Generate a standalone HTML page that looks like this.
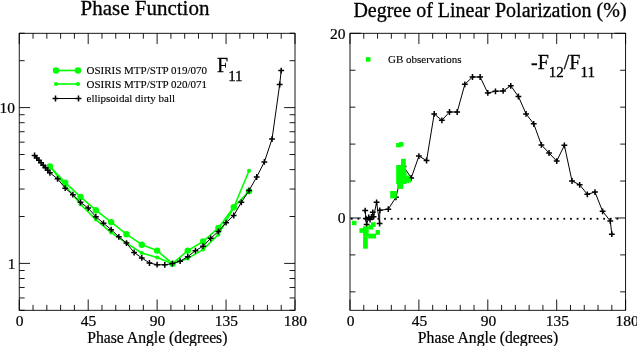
<!DOCTYPE html><html><head><meta charset="utf-8"><style>html,body{margin:0;padding:0;background:#fff;width:637px;height:346px;overflow:hidden}</style></head><body><svg width="637" height="346" viewBox="0 0 637 346" style="display:block;will-change:transform">
<rect x="0" y="0" width="637" height="346" fill="#fff"/>
<rect x="19.25" y="33.3" width="275.75" height="277.0" fill="none" stroke="#000" stroke-width="0.9"/>
<line x1="19.25" y1="310.3" x2="19.25" y2="299.5" stroke="#000" stroke-width="0.9"/>
<line x1="19.25" y1="33.3" x2="19.25" y2="44.099999999999994" stroke="#000" stroke-width="0.9"/>
<line x1="33.04" y1="310.3" x2="33.04" y2="304.90000000000003" stroke="#000" stroke-width="0.9"/>
<line x1="33.04" y1="33.3" x2="33.04" y2="38.699999999999996" stroke="#000" stroke-width="0.9"/>
<line x1="46.83" y1="310.3" x2="46.83" y2="304.90000000000003" stroke="#000" stroke-width="0.9"/>
<line x1="46.83" y1="33.3" x2="46.83" y2="38.699999999999996" stroke="#000" stroke-width="0.9"/>
<line x1="60.61" y1="310.3" x2="60.61" y2="304.90000000000003" stroke="#000" stroke-width="0.9"/>
<line x1="60.61" y1="33.3" x2="60.61" y2="38.699999999999996" stroke="#000" stroke-width="0.9"/>
<line x1="74.40" y1="310.3" x2="74.40" y2="304.90000000000003" stroke="#000" stroke-width="0.9"/>
<line x1="74.40" y1="33.3" x2="74.40" y2="38.699999999999996" stroke="#000" stroke-width="0.9"/>
<line x1="88.19" y1="310.3" x2="88.19" y2="299.5" stroke="#000" stroke-width="0.9"/>
<line x1="88.19" y1="33.3" x2="88.19" y2="44.099999999999994" stroke="#000" stroke-width="0.9"/>
<line x1="101.97" y1="310.3" x2="101.97" y2="304.90000000000003" stroke="#000" stroke-width="0.9"/>
<line x1="101.97" y1="33.3" x2="101.97" y2="38.699999999999996" stroke="#000" stroke-width="0.9"/>
<line x1="115.76" y1="310.3" x2="115.76" y2="304.90000000000003" stroke="#000" stroke-width="0.9"/>
<line x1="115.76" y1="33.3" x2="115.76" y2="38.699999999999996" stroke="#000" stroke-width="0.9"/>
<line x1="129.55" y1="310.3" x2="129.55" y2="304.90000000000003" stroke="#000" stroke-width="0.9"/>
<line x1="129.55" y1="33.3" x2="129.55" y2="38.699999999999996" stroke="#000" stroke-width="0.9"/>
<line x1="143.34" y1="310.3" x2="143.34" y2="304.90000000000003" stroke="#000" stroke-width="0.9"/>
<line x1="143.34" y1="33.3" x2="143.34" y2="38.699999999999996" stroke="#000" stroke-width="0.9"/>
<line x1="157.12" y1="310.3" x2="157.12" y2="299.5" stroke="#000" stroke-width="0.9"/>
<line x1="157.12" y1="33.3" x2="157.12" y2="44.099999999999994" stroke="#000" stroke-width="0.9"/>
<line x1="170.91" y1="310.3" x2="170.91" y2="304.90000000000003" stroke="#000" stroke-width="0.9"/>
<line x1="170.91" y1="33.3" x2="170.91" y2="38.699999999999996" stroke="#000" stroke-width="0.9"/>
<line x1="184.70" y1="310.3" x2="184.70" y2="304.90000000000003" stroke="#000" stroke-width="0.9"/>
<line x1="184.70" y1="33.3" x2="184.70" y2="38.699999999999996" stroke="#000" stroke-width="0.9"/>
<line x1="198.49" y1="310.3" x2="198.49" y2="304.90000000000003" stroke="#000" stroke-width="0.9"/>
<line x1="198.49" y1="33.3" x2="198.49" y2="38.699999999999996" stroke="#000" stroke-width="0.9"/>
<line x1="212.28" y1="310.3" x2="212.28" y2="304.90000000000003" stroke="#000" stroke-width="0.9"/>
<line x1="212.28" y1="33.3" x2="212.28" y2="38.699999999999996" stroke="#000" stroke-width="0.9"/>
<line x1="226.06" y1="310.3" x2="226.06" y2="299.5" stroke="#000" stroke-width="0.9"/>
<line x1="226.06" y1="33.3" x2="226.06" y2="44.099999999999994" stroke="#000" stroke-width="0.9"/>
<line x1="239.85" y1="310.3" x2="239.85" y2="304.90000000000003" stroke="#000" stroke-width="0.9"/>
<line x1="239.85" y1="33.3" x2="239.85" y2="38.699999999999996" stroke="#000" stroke-width="0.9"/>
<line x1="253.64" y1="310.3" x2="253.64" y2="304.90000000000003" stroke="#000" stroke-width="0.9"/>
<line x1="253.64" y1="33.3" x2="253.64" y2="38.699999999999996" stroke="#000" stroke-width="0.9"/>
<line x1="267.43" y1="310.3" x2="267.43" y2="304.90000000000003" stroke="#000" stroke-width="0.9"/>
<line x1="267.43" y1="33.3" x2="267.43" y2="38.699999999999996" stroke="#000" stroke-width="0.9"/>
<line x1="281.21" y1="310.3" x2="281.21" y2="304.90000000000003" stroke="#000" stroke-width="0.9"/>
<line x1="281.21" y1="33.3" x2="281.21" y2="38.699999999999996" stroke="#000" stroke-width="0.9"/>
<line x1="295.00" y1="310.3" x2="295.00" y2="299.5" stroke="#000" stroke-width="0.9"/>
<line x1="295.00" y1="33.3" x2="295.00" y2="44.099999999999994" stroke="#000" stroke-width="0.9"/>
<rect x="350.0" y="33.3" width="275.6" height="277.0" fill="none" stroke="#000" stroke-width="0.9"/>
<line x1="350.00" y1="310.3" x2="350.00" y2="299.5" stroke="#000" stroke-width="0.9"/>
<line x1="350.00" y1="33.3" x2="350.00" y2="44.099999999999994" stroke="#000" stroke-width="0.9"/>
<line x1="363.78" y1="310.3" x2="363.78" y2="304.90000000000003" stroke="#000" stroke-width="0.9"/>
<line x1="363.78" y1="33.3" x2="363.78" y2="38.699999999999996" stroke="#000" stroke-width="0.9"/>
<line x1="377.56" y1="310.3" x2="377.56" y2="304.90000000000003" stroke="#000" stroke-width="0.9"/>
<line x1="377.56" y1="33.3" x2="377.56" y2="38.699999999999996" stroke="#000" stroke-width="0.9"/>
<line x1="391.34" y1="310.3" x2="391.34" y2="304.90000000000003" stroke="#000" stroke-width="0.9"/>
<line x1="391.34" y1="33.3" x2="391.34" y2="38.699999999999996" stroke="#000" stroke-width="0.9"/>
<line x1="405.12" y1="310.3" x2="405.12" y2="304.90000000000003" stroke="#000" stroke-width="0.9"/>
<line x1="405.12" y1="33.3" x2="405.12" y2="38.699999999999996" stroke="#000" stroke-width="0.9"/>
<line x1="418.90" y1="310.3" x2="418.90" y2="299.5" stroke="#000" stroke-width="0.9"/>
<line x1="418.90" y1="33.3" x2="418.90" y2="44.099999999999994" stroke="#000" stroke-width="0.9"/>
<line x1="432.68" y1="310.3" x2="432.68" y2="304.90000000000003" stroke="#000" stroke-width="0.9"/>
<line x1="432.68" y1="33.3" x2="432.68" y2="38.699999999999996" stroke="#000" stroke-width="0.9"/>
<line x1="446.46" y1="310.3" x2="446.46" y2="304.90000000000003" stroke="#000" stroke-width="0.9"/>
<line x1="446.46" y1="33.3" x2="446.46" y2="38.699999999999996" stroke="#000" stroke-width="0.9"/>
<line x1="460.24" y1="310.3" x2="460.24" y2="304.90000000000003" stroke="#000" stroke-width="0.9"/>
<line x1="460.24" y1="33.3" x2="460.24" y2="38.699999999999996" stroke="#000" stroke-width="0.9"/>
<line x1="474.02" y1="310.3" x2="474.02" y2="304.90000000000003" stroke="#000" stroke-width="0.9"/>
<line x1="474.02" y1="33.3" x2="474.02" y2="38.699999999999996" stroke="#000" stroke-width="0.9"/>
<line x1="487.80" y1="310.3" x2="487.80" y2="299.5" stroke="#000" stroke-width="0.9"/>
<line x1="487.80" y1="33.3" x2="487.80" y2="44.099999999999994" stroke="#000" stroke-width="0.9"/>
<line x1="501.58" y1="310.3" x2="501.58" y2="304.90000000000003" stroke="#000" stroke-width="0.9"/>
<line x1="501.58" y1="33.3" x2="501.58" y2="38.699999999999996" stroke="#000" stroke-width="0.9"/>
<line x1="515.36" y1="310.3" x2="515.36" y2="304.90000000000003" stroke="#000" stroke-width="0.9"/>
<line x1="515.36" y1="33.3" x2="515.36" y2="38.699999999999996" stroke="#000" stroke-width="0.9"/>
<line x1="529.14" y1="310.3" x2="529.14" y2="304.90000000000003" stroke="#000" stroke-width="0.9"/>
<line x1="529.14" y1="33.3" x2="529.14" y2="38.699999999999996" stroke="#000" stroke-width="0.9"/>
<line x1="542.92" y1="310.3" x2="542.92" y2="304.90000000000003" stroke="#000" stroke-width="0.9"/>
<line x1="542.92" y1="33.3" x2="542.92" y2="38.699999999999996" stroke="#000" stroke-width="0.9"/>
<line x1="556.70" y1="310.3" x2="556.70" y2="299.5" stroke="#000" stroke-width="0.9"/>
<line x1="556.70" y1="33.3" x2="556.70" y2="44.099999999999994" stroke="#000" stroke-width="0.9"/>
<line x1="570.48" y1="310.3" x2="570.48" y2="304.90000000000003" stroke="#000" stroke-width="0.9"/>
<line x1="570.48" y1="33.3" x2="570.48" y2="38.699999999999996" stroke="#000" stroke-width="0.9"/>
<line x1="584.26" y1="310.3" x2="584.26" y2="304.90000000000003" stroke="#000" stroke-width="0.9"/>
<line x1="584.26" y1="33.3" x2="584.26" y2="38.699999999999996" stroke="#000" stroke-width="0.9"/>
<line x1="598.04" y1="310.3" x2="598.04" y2="304.90000000000003" stroke="#000" stroke-width="0.9"/>
<line x1="598.04" y1="33.3" x2="598.04" y2="38.699999999999996" stroke="#000" stroke-width="0.9"/>
<line x1="611.82" y1="310.3" x2="611.82" y2="304.90000000000003" stroke="#000" stroke-width="0.9"/>
<line x1="611.82" y1="33.3" x2="611.82" y2="38.699999999999996" stroke="#000" stroke-width="0.9"/>
<line x1="625.60" y1="310.3" x2="625.60" y2="299.5" stroke="#000" stroke-width="0.9"/>
<line x1="625.60" y1="33.3" x2="625.60" y2="44.099999999999994" stroke="#000" stroke-width="0.9"/>
<line x1="19.25" y1="310.30" x2="24.65" y2="310.30" stroke="#000" stroke-width="0.9"/>
<line x1="295.0" y1="310.30" x2="289.6" y2="310.30" stroke="#000" stroke-width="0.9"/>
<line x1="19.25" y1="297.96" x2="24.65" y2="297.96" stroke="#000" stroke-width="0.9"/>
<line x1="295.0" y1="297.96" x2="289.6" y2="297.96" stroke="#000" stroke-width="0.9"/>
<line x1="19.25" y1="287.53" x2="24.65" y2="287.53" stroke="#000" stroke-width="0.9"/>
<line x1="295.0" y1="287.53" x2="289.6" y2="287.53" stroke="#000" stroke-width="0.9"/>
<line x1="19.25" y1="278.50" x2="24.65" y2="278.50" stroke="#000" stroke-width="0.9"/>
<line x1="295.0" y1="278.50" x2="289.6" y2="278.50" stroke="#000" stroke-width="0.9"/>
<line x1="19.25" y1="270.53" x2="24.65" y2="270.53" stroke="#000" stroke-width="0.9"/>
<line x1="295.0" y1="270.53" x2="289.6" y2="270.53" stroke="#000" stroke-width="0.9"/>
<line x1="19.25" y1="263.40" x2="30.05" y2="263.40" stroke="#000" stroke-width="0.9"/>
<line x1="295.0" y1="263.40" x2="284.2" y2="263.40" stroke="#000" stroke-width="0.9"/>
<line x1="19.25" y1="216.50" x2="24.65" y2="216.50" stroke="#000" stroke-width="0.9"/>
<line x1="295.0" y1="216.50" x2="289.6" y2="216.50" stroke="#000" stroke-width="0.9"/>
<line x1="19.25" y1="189.06" x2="24.65" y2="189.06" stroke="#000" stroke-width="0.9"/>
<line x1="295.0" y1="189.06" x2="289.6" y2="189.06" stroke="#000" stroke-width="0.9"/>
<line x1="19.25" y1="169.60" x2="24.65" y2="169.60" stroke="#000" stroke-width="0.9"/>
<line x1="295.0" y1="169.60" x2="289.6" y2="169.60" stroke="#000" stroke-width="0.9"/>
<line x1="19.25" y1="154.50" x2="24.65" y2="154.50" stroke="#000" stroke-width="0.9"/>
<line x1="295.0" y1="154.50" x2="289.6" y2="154.50" stroke="#000" stroke-width="0.9"/>
<line x1="19.25" y1="142.16" x2="24.65" y2="142.16" stroke="#000" stroke-width="0.9"/>
<line x1="295.0" y1="142.16" x2="289.6" y2="142.16" stroke="#000" stroke-width="0.9"/>
<line x1="19.25" y1="131.73" x2="24.65" y2="131.73" stroke="#000" stroke-width="0.9"/>
<line x1="295.0" y1="131.73" x2="289.6" y2="131.73" stroke="#000" stroke-width="0.9"/>
<line x1="19.25" y1="122.70" x2="24.65" y2="122.70" stroke="#000" stroke-width="0.9"/>
<line x1="295.0" y1="122.70" x2="289.6" y2="122.70" stroke="#000" stroke-width="0.9"/>
<line x1="19.25" y1="114.73" x2="24.65" y2="114.73" stroke="#000" stroke-width="0.9"/>
<line x1="295.0" y1="114.73" x2="289.6" y2="114.73" stroke="#000" stroke-width="0.9"/>
<line x1="19.25" y1="107.60" x2="30.05" y2="107.60" stroke="#000" stroke-width="0.9"/>
<line x1="295.0" y1="107.60" x2="284.2" y2="107.60" stroke="#000" stroke-width="0.9"/>
<line x1="19.25" y1="60.70" x2="24.65" y2="60.70" stroke="#000" stroke-width="0.9"/>
<line x1="295.0" y1="60.70" x2="289.6" y2="60.70" stroke="#000" stroke-width="0.9"/>
<line x1="19.25" y1="33.26" x2="24.65" y2="33.26" stroke="#000" stroke-width="0.9"/>
<line x1="295.0" y1="33.26" x2="289.6" y2="33.26" stroke="#000" stroke-width="0.9"/>
<line x1="350.0" y1="291.84" x2="355.4" y2="291.84" stroke="#000" stroke-width="0.9"/>
<line x1="625.6" y1="291.84" x2="620.2" y2="291.84" stroke="#000" stroke-width="0.9"/>
<line x1="350.0" y1="254.90" x2="355.4" y2="254.90" stroke="#000" stroke-width="0.9"/>
<line x1="625.6" y1="254.90" x2="620.2" y2="254.90" stroke="#000" stroke-width="0.9"/>
<line x1="350.0" y1="217.97" x2="360.8" y2="217.97" stroke="#000" stroke-width="0.9"/>
<line x1="625.6" y1="217.97" x2="614.8000000000001" y2="217.97" stroke="#000" stroke-width="0.9"/>
<line x1="350.0" y1="181.04" x2="355.4" y2="181.04" stroke="#000" stroke-width="0.9"/>
<line x1="625.6" y1="181.04" x2="620.2" y2="181.04" stroke="#000" stroke-width="0.9"/>
<line x1="350.0" y1="144.10" x2="355.4" y2="144.10" stroke="#000" stroke-width="0.9"/>
<line x1="625.6" y1="144.10" x2="620.2" y2="144.10" stroke="#000" stroke-width="0.9"/>
<line x1="350.0" y1="107.17" x2="355.4" y2="107.17" stroke="#000" stroke-width="0.9"/>
<line x1="625.6" y1="107.17" x2="620.2" y2="107.17" stroke="#000" stroke-width="0.9"/>
<line x1="350.0" y1="70.24" x2="355.4" y2="70.24" stroke="#000" stroke-width="0.9"/>
<line x1="625.6" y1="70.24" x2="620.2" y2="70.24" stroke="#000" stroke-width="0.9"/>
<line x1="350.0" y1="33.30" x2="360.8" y2="33.30" stroke="#000" stroke-width="0.9"/>
<line x1="625.6" y1="33.30" x2="614.8000000000001" y2="33.30" stroke="#000" stroke-width="0.9"/>
<text x="19.65" y="326.3" font-family='"Liberation Serif", serif' font-size="15.5" text-anchor="middle" fill="#000" stroke="#000" stroke-width="0.22" >0</text>
<text x="350.60" y="326.3" font-family='"Liberation Serif", serif' font-size="15.5" text-anchor="middle" fill="#000" stroke="#000" stroke-width="0.22" >0</text>
<text x="88.59" y="326.3" font-family='"Liberation Serif", serif' font-size="15.5" text-anchor="middle" fill="#000" stroke="#000" stroke-width="0.22" >45</text>
<text x="419.50" y="326.3" font-family='"Liberation Serif", serif' font-size="15.5" text-anchor="middle" fill="#000" stroke="#000" stroke-width="0.22" >45</text>
<text x="157.53" y="326.3" font-family='"Liberation Serif", serif' font-size="15.5" text-anchor="middle" fill="#000" stroke="#000" stroke-width="0.22" >90</text>
<text x="488.40" y="326.3" font-family='"Liberation Serif", serif' font-size="15.5" text-anchor="middle" fill="#000" stroke="#000" stroke-width="0.22" >90</text>
<text x="226.46" y="326.3" font-family='"Liberation Serif", serif' font-size="15.5" text-anchor="middle" fill="#000" stroke="#000" stroke-width="0.22" >135</text>
<text x="557.30" y="326.3" font-family='"Liberation Serif", serif' font-size="15.5" text-anchor="middle" fill="#000" stroke="#000" stroke-width="0.22" >135</text>
<text x="295.40" y="326.3" font-family='"Liberation Serif", serif' font-size="15.5" text-anchor="middle" fill="#000" stroke="#000" stroke-width="0.22" >180</text>
<text x="627.20" y="326.3" font-family='"Liberation Serif", serif' font-size="15.5" text-anchor="middle" fill="#000" stroke="#000" stroke-width="0.22" >180</text>
<text x="15" y="112.8" font-family='"Liberation Serif", serif' font-size="15.5" text-anchor="end" fill="#000" stroke="#000" stroke-width="0.22" >10</text>
<text x="15.5" y="268.5" font-family='"Liberation Serif", serif' font-size="15.5" text-anchor="end" fill="#000" stroke="#000" stroke-width="0.22" >1</text>
<text x="345.5" y="38.7" font-family='"Liberation Serif", serif' font-size="15.5" text-anchor="end" fill="#000" stroke="#000" stroke-width="0.22" >20</text>
<text x="345.5" y="223.2" font-family='"Liberation Serif", serif' font-size="15.5" text-anchor="end" fill="#000" stroke="#000" stroke-width="0.22" >0</text>
<text x="145" y="14.6" font-family='"Liberation Serif", serif' font-size="21" text-anchor="middle" fill="#000" stroke="#000" stroke-width="0.3" >Phase Function</text>
<text x="490" y="17.3" font-family='"Liberation Serif", serif' font-size="20" text-anchor="middle" fill="#000" stroke="#000" stroke-width="0.3" >Degree of Linear Polarization (%)</text>
<text x="157.3" y="342.7" font-family='"Liberation Serif", serif' font-size="15.7" text-anchor="middle" fill="#000" stroke="#000" stroke-width="0.22" >Phase Angle (degrees)</text>
<text x="488" y="342.7" font-family='"Liberation Serif", serif' font-size="15.7" text-anchor="middle" fill="#000" stroke="#000" stroke-width="0.22" >Phase Angle (degrees)</text>
<text x="217" y="72.2" font-family='"Liberation Serif", serif' font-size="20" fill="#000" stroke="#000" stroke-width="0.3">F<tspan font-size="15" dy="8.4">11</tspan></text>
<text x="531" y="68.7" font-family='"Liberation Serif", serif' font-size="20" fill="#000" stroke="#000" stroke-width="0.3">-F<tspan font-size="15" dy="8.3">12</tspan><tspan dy="-8.3">/F</tspan><tspan font-size="15" dy="8.3">11</tspan></text>
<line x1="56" y1="70.5" x2="78" y2="70.5" stroke="#00ff00" stroke-width="1.6"/>
<circle cx="56" cy="70.5" r="3.2" fill="#00ff00"/><circle cx="78" cy="70.5" r="3.2" fill="#00ff00"/>
<line x1="56" y1="84" x2="78" y2="84" stroke="#00ff00" stroke-width="1.6"/>
<circle cx="56" cy="84" r="2" fill="#00ff00"/><circle cx="78" cy="84" r="2" fill="#00ff00"/>
<line x1="56" y1="98.5" x2="78" y2="98.5" stroke="#000" stroke-width="1"/>
<path d="M52.60 98.50H58.40M55.50 95.60V101.40" stroke="#000" stroke-width="1.5"/>
<path d="M75.60 98.50H81.40M78.50 95.60V101.40" stroke="#000" stroke-width="1.5"/>
<text x="86.5" y="74.2" font-family='"Liberation Serif", serif' font-size="11" text-anchor="start" fill="#000" stroke="#000" stroke-width="0.12" >OSIRIS MTP/STP 019/070</text>
<text x="86.5" y="87.8" font-family='"Liberation Serif", serif' font-size="11" text-anchor="start" fill="#000" stroke="#000" stroke-width="0.12" >OSIRIS MTP/STP 020/071</text>
<text x="86.5" y="101.8" font-family='"Liberation Serif", serif' font-size="11" text-anchor="start" fill="#000" stroke="#000" stroke-width="0.12" >ellipsoidal dirty ball</text>
<polyline points="49.89,166.50 65.21,185.50 80.53,204.30 95.85,219.60 111.17,232.60 126.49,243.10 141.81,253.00 157.12,257.40 172.44,263.80 187.76,258.40 203.08,249.60 218.40,234.50 233.72,207.50 249.04,170.70" fill="none" stroke="#00ff00" stroke-width="1.6" stroke-linejoin="round"/>
<circle cx="49.89" cy="166.50" r="2" fill="#00ff00"/>
<circle cx="65.21" cy="185.50" r="2" fill="#00ff00"/>
<circle cx="80.53" cy="204.30" r="2" fill="#00ff00"/>
<circle cx="95.85" cy="219.60" r="2" fill="#00ff00"/>
<circle cx="111.17" cy="232.60" r="2" fill="#00ff00"/>
<circle cx="126.49" cy="243.10" r="2" fill="#00ff00"/>
<circle cx="141.81" cy="253.00" r="2" fill="#00ff00"/>
<circle cx="157.12" cy="257.40" r="2" fill="#00ff00"/>
<circle cx="172.44" cy="263.80" r="2" fill="#00ff00"/>
<circle cx="187.76" cy="258.40" r="2" fill="#00ff00"/>
<circle cx="203.08" cy="249.60" r="2" fill="#00ff00"/>
<circle cx="218.40" cy="234.50" r="2" fill="#00ff00"/>
<circle cx="233.72" cy="207.50" r="2" fill="#00ff00"/>
<circle cx="249.04" cy="170.70" r="2" fill="#00ff00"/>
<polyline points="49.89,166.50 65.21,182.60 80.53,196.90 95.85,210.20 111.17,222.10 126.49,234.20 141.81,244.70 157.12,250.60 172.44,263.70 187.76,250.60 203.08,241.50 218.40,227.90 233.72,207.30 249.04,191.10" fill="none" stroke="#00ff00" stroke-width="1.6" stroke-linejoin="round"/>
<circle cx="49.89" cy="166.50" r="3.2" fill="#00ff00"/>
<circle cx="65.21" cy="182.60" r="3.2" fill="#00ff00"/>
<circle cx="80.53" cy="196.90" r="3.2" fill="#00ff00"/>
<circle cx="95.85" cy="210.20" r="3.2" fill="#00ff00"/>
<circle cx="111.17" cy="222.10" r="3.2" fill="#00ff00"/>
<circle cx="126.49" cy="234.20" r="3.2" fill="#00ff00"/>
<circle cx="141.81" cy="244.70" r="3.2" fill="#00ff00"/>
<circle cx="157.12" cy="250.60" r="3.2" fill="#00ff00"/>
<circle cx="172.44" cy="263.70" r="3.2" fill="#00ff00"/>
<circle cx="187.76" cy="250.60" r="3.2" fill="#00ff00"/>
<circle cx="203.08" cy="241.50" r="3.2" fill="#00ff00"/>
<circle cx="218.40" cy="227.90" r="3.2" fill="#00ff00"/>
<circle cx="233.72" cy="207.30" r="3.2" fill="#00ff00"/>
<circle cx="249.04" cy="191.10" r="3.2" fill="#00ff00"/>
<polyline points="34.57,155.40 36.76,157.89 38.95,160.37 41.13,162.86 43.32,165.34 45.51,167.83 47.70,170.31 49.89,172.80 57.55,178.80 65.21,188.20 72.87,194.70 80.53,202.30 88.19,208.10 95.85,216.70 103.51,223.20 111.17,229.70 118.83,236.80 126.49,243.10 134.15,252.50 141.81,257.90 149.47,263.00 157.12,264.70 164.78,264.80 172.44,263.60 180.10,261.20 187.76,256.70 195.42,250.70 203.08,246.20 210.74,238.30 218.40,231.40 226.06,222.70 233.72,215.50 241.38,202.30 249.04,190.50 256.70,177.00 264.36,161.90 272.02,139.10 279.68,84.50 281.21,70.60" fill="none" stroke="#000" stroke-width="1" stroke-linejoin="round"/>
<path d="M31.67 155.40H37.47M34.57 152.50V158.30" stroke="#000" stroke-width="1.5"/>
<path d="M33.86 157.89H39.66M36.76 154.99V160.79" stroke="#000" stroke-width="1.5"/>
<path d="M36.05 160.37H41.85M38.95 157.47V163.27" stroke="#000" stroke-width="1.5"/>
<path d="M38.23 162.86H44.03M41.13 159.96V165.76" stroke="#000" stroke-width="1.5"/>
<path d="M40.42 165.34H46.22M43.32 162.44V168.24" stroke="#000" stroke-width="1.5"/>
<path d="M42.61 167.83H48.41M45.51 164.93V170.73" stroke="#000" stroke-width="1.5"/>
<path d="M44.80 170.31H50.60M47.70 167.41V173.21" stroke="#000" stroke-width="1.5"/>
<path d="M46.99 172.80H52.79M49.89 169.90V175.70" stroke="#000" stroke-width="1.5"/>
<path d="M54.65 178.80H60.45M57.55 175.90V181.70" stroke="#000" stroke-width="1.5"/>
<path d="M62.31 188.20H68.11M65.21 185.30V191.10" stroke="#000" stroke-width="1.5"/>
<path d="M69.97 194.70H75.77M72.87 191.80V197.60" stroke="#000" stroke-width="1.5"/>
<path d="M77.63 202.30H83.43M80.53 199.40V205.20" stroke="#000" stroke-width="1.5"/>
<path d="M85.29 208.10H91.09M88.19 205.20V211.00" stroke="#000" stroke-width="1.5"/>
<path d="M92.95 216.70H98.75M95.85 213.80V219.60" stroke="#000" stroke-width="1.5"/>
<path d="M100.61 223.20H106.41M103.51 220.30V226.10" stroke="#000" stroke-width="1.5"/>
<path d="M108.27 229.70H114.07M111.17 226.80V232.60" stroke="#000" stroke-width="1.5"/>
<path d="M115.93 236.80H121.73M118.83 233.90V239.70" stroke="#000" stroke-width="1.5"/>
<path d="M123.59 243.10H129.39M126.49 240.20V246.00" stroke="#000" stroke-width="1.5"/>
<path d="M131.25 252.50H137.05M134.15 249.60V255.40" stroke="#000" stroke-width="1.5"/>
<path d="M138.91 257.90H144.71M141.81 255.00V260.80" stroke="#000" stroke-width="1.5"/>
<path d="M146.57 263.00H152.37M149.47 260.10V265.90" stroke="#000" stroke-width="1.5"/>
<path d="M154.22 264.70H160.03M157.12 261.80V267.60" stroke="#000" stroke-width="1.5"/>
<path d="M161.88 264.80H167.68M164.78 261.90V267.70" stroke="#000" stroke-width="1.5"/>
<path d="M169.54 263.60H175.34M172.44 260.70V266.50" stroke="#000" stroke-width="1.5"/>
<path d="M177.20 261.20H183.00M180.10 258.30V264.10" stroke="#000" stroke-width="1.5"/>
<path d="M184.86 256.70H190.66M187.76 253.80V259.60" stroke="#000" stroke-width="1.5"/>
<path d="M192.52 250.70H198.32M195.42 247.80V253.60" stroke="#000" stroke-width="1.5"/>
<path d="M200.18 246.20H205.98M203.08 243.30V249.10" stroke="#000" stroke-width="1.5"/>
<path d="M207.84 238.30H213.64M210.74 235.40V241.20" stroke="#000" stroke-width="1.5"/>
<path d="M215.50 231.40H221.30M218.40 228.50V234.30" stroke="#000" stroke-width="1.5"/>
<path d="M223.16 222.70H228.96M226.06 219.80V225.60" stroke="#000" stroke-width="1.5"/>
<path d="M230.82 215.50H236.62M233.72 212.60V218.40" stroke="#000" stroke-width="1.5"/>
<path d="M238.48 202.30H244.28M241.38 199.40V205.20" stroke="#000" stroke-width="1.5"/>
<path d="M246.14 190.50H251.94M249.04 187.60V193.40" stroke="#000" stroke-width="1.5"/>
<path d="M253.80 177.00H259.60M256.70 174.10V179.90" stroke="#000" stroke-width="1.5"/>
<path d="M261.46 161.90H267.26M264.36 159.00V164.80" stroke="#000" stroke-width="1.5"/>
<path d="M269.12 139.10H274.92M272.02 136.20V142.00" stroke="#000" stroke-width="1.5"/>
<path d="M276.78 84.50H282.58M279.68 81.60V87.40" stroke="#000" stroke-width="1.5"/>
<path d="M278.31 70.60H284.11M281.21 67.70V73.50" stroke="#000" stroke-width="1.5"/>
<rect x="350.90" y="217.87" width="1.8" height="1.8" fill="#000"/>
<rect x="357.54" y="217.87" width="1.8" height="1.8" fill="#000"/>
<rect x="364.18" y="217.87" width="1.8" height="1.8" fill="#000"/>
<rect x="370.82" y="217.87" width="1.8" height="1.8" fill="#000"/>
<rect x="377.46" y="217.87" width="1.8" height="1.8" fill="#000"/>
<rect x="384.10" y="217.87" width="1.8" height="1.8" fill="#000"/>
<rect x="390.74" y="217.87" width="1.8" height="1.8" fill="#000"/>
<rect x="397.38" y="217.87" width="1.8" height="1.8" fill="#000"/>
<rect x="404.02" y="217.87" width="1.8" height="1.8" fill="#000"/>
<rect x="410.66" y="217.87" width="1.8" height="1.8" fill="#000"/>
<rect x="417.30" y="217.87" width="1.8" height="1.8" fill="#000"/>
<rect x="423.94" y="217.87" width="1.8" height="1.8" fill="#000"/>
<rect x="430.58" y="217.87" width="1.8" height="1.8" fill="#000"/>
<rect x="437.22" y="217.87" width="1.8" height="1.8" fill="#000"/>
<rect x="443.86" y="217.87" width="1.8" height="1.8" fill="#000"/>
<rect x="450.50" y="217.87" width="1.8" height="1.8" fill="#000"/>
<rect x="457.14" y="217.87" width="1.8" height="1.8" fill="#000"/>
<rect x="463.78" y="217.87" width="1.8" height="1.8" fill="#000"/>
<rect x="470.42" y="217.87" width="1.8" height="1.8" fill="#000"/>
<rect x="477.06" y="217.87" width="1.8" height="1.8" fill="#000"/>
<rect x="483.70" y="217.87" width="1.8" height="1.8" fill="#000"/>
<rect x="490.34" y="217.87" width="1.8" height="1.8" fill="#000"/>
<rect x="496.98" y="217.87" width="1.8" height="1.8" fill="#000"/>
<rect x="503.62" y="217.87" width="1.8" height="1.8" fill="#000"/>
<rect x="510.26" y="217.87" width="1.8" height="1.8" fill="#000"/>
<rect x="516.90" y="217.87" width="1.8" height="1.8" fill="#000"/>
<rect x="523.54" y="217.87" width="1.8" height="1.8" fill="#000"/>
<rect x="530.18" y="217.87" width="1.8" height="1.8" fill="#000"/>
<rect x="536.82" y="217.87" width="1.8" height="1.8" fill="#000"/>
<rect x="543.46" y="217.87" width="1.8" height="1.8" fill="#000"/>
<rect x="550.10" y="217.87" width="1.8" height="1.8" fill="#000"/>
<rect x="556.74" y="217.87" width="1.8" height="1.8" fill="#000"/>
<rect x="563.38" y="217.87" width="1.8" height="1.8" fill="#000"/>
<rect x="570.02" y="217.87" width="1.8" height="1.8" fill="#000"/>
<rect x="576.66" y="217.87" width="1.8" height="1.8" fill="#000"/>
<rect x="583.30" y="217.87" width="1.8" height="1.8" fill="#000"/>
<rect x="589.94" y="217.87" width="1.8" height="1.8" fill="#000"/>
<rect x="596.58" y="217.87" width="1.8" height="1.8" fill="#000"/>
<rect x="603.22" y="217.87" width="1.8" height="1.8" fill="#000"/>
<rect x="609.86" y="217.87" width="1.8" height="1.8" fill="#000"/>
<rect x="616.50" y="217.87" width="1.8" height="1.8" fill="#000"/>
<polyline points="365.20,210.60 365.90,218.60 366.60,224.50 368.70,217.50 370.00,219.50 371.50,217.00 372.80,212.30 373.60,216.80 376.60,202.30 379.60,223.50 379.80,210.30 388.28,209.20 395.93,197.30 403.59,166.50 411.24,177.90 418.90,156.10 426.56,160.50 434.21,113.90 441.87,120.30 449.52,112.00 457.18,112.00 464.83,84.30 472.49,77.00 480.14,77.00 487.80,92.90 495.46,91.30 503.11,90.90 510.77,85.80 518.42,96.50 526.08,113.90 533.73,123.80 541.39,144.90 549.04,153.00 556.70,161.10 564.36,145.30 572.01,181.00 579.67,184.80 587.32,194.30 594.98,192.10 602.63,211.30 610.29,221.00 611.82,234.20" fill="none" stroke="#000" stroke-width="1" stroke-linejoin="round"/>
<path d="M362.30 210.60H368.10M365.20 207.70V213.50" stroke="#000" stroke-width="1.5"/>
<path d="M363.00 218.60H368.80M365.90 215.70V221.50" stroke="#000" stroke-width="1.5"/>
<path d="M363.70 224.50H369.50M366.60 221.60V227.40" stroke="#000" stroke-width="1.5"/>
<path d="M365.80 217.50H371.60M368.70 214.60V220.40" stroke="#000" stroke-width="1.5"/>
<path d="M367.10 219.50H372.90M370.00 216.60V222.40" stroke="#000" stroke-width="1.5"/>
<path d="M368.60 217.00H374.40M371.50 214.10V219.90" stroke="#000" stroke-width="1.5"/>
<path d="M369.90 212.30H375.70M372.80 209.40V215.20" stroke="#000" stroke-width="1.5"/>
<path d="M370.70 216.80H376.50M373.60 213.90V219.70" stroke="#000" stroke-width="1.5"/>
<path d="M373.70 202.30H379.50M376.60 199.40V205.20" stroke="#000" stroke-width="1.5"/>
<path d="M376.70 223.50H382.50M379.60 220.60V226.40" stroke="#000" stroke-width="1.5"/>
<path d="M376.90 210.30H382.70M379.80 207.40V213.20" stroke="#000" stroke-width="1.5"/>
<path d="M385.38 209.20H391.18M388.28 206.30V212.10" stroke="#000" stroke-width="1.5"/>
<path d="M393.03 197.30H398.83M395.93 194.40V200.20" stroke="#000" stroke-width="1.5"/>
<path d="M400.69 166.50H406.49M403.59 163.60V169.40" stroke="#000" stroke-width="1.5"/>
<path d="M408.34 177.90H414.14M411.24 175.00V180.80" stroke="#000" stroke-width="1.5"/>
<path d="M416.00 156.10H421.80M418.90 153.20V159.00" stroke="#000" stroke-width="1.5"/>
<path d="M423.66 160.50H429.46M426.56 157.60V163.40" stroke="#000" stroke-width="1.5"/>
<path d="M431.31 113.90H437.11M434.21 111.00V116.80" stroke="#000" stroke-width="1.5"/>
<path d="M438.97 120.30H444.77M441.87 117.40V123.20" stroke="#000" stroke-width="1.5"/>
<path d="M446.62 112.00H452.42M449.52 109.10V114.90" stroke="#000" stroke-width="1.5"/>
<path d="M454.28 112.00H460.08M457.18 109.10V114.90" stroke="#000" stroke-width="1.5"/>
<path d="M461.93 84.30H467.73M464.83 81.40V87.20" stroke="#000" stroke-width="1.5"/>
<path d="M469.59 77.00H475.39M472.49 74.10V79.90" stroke="#000" stroke-width="1.5"/>
<path d="M477.24 77.00H483.04M480.14 74.10V79.90" stroke="#000" stroke-width="1.5"/>
<path d="M484.90 92.90H490.70M487.80 90.00V95.80" stroke="#000" stroke-width="1.5"/>
<path d="M492.56 91.30H498.36M495.46 88.40V94.20" stroke="#000" stroke-width="1.5"/>
<path d="M500.21 90.90H506.01M503.11 88.00V93.80" stroke="#000" stroke-width="1.5"/>
<path d="M507.87 85.80H513.67M510.77 82.90V88.70" stroke="#000" stroke-width="1.5"/>
<path d="M515.52 96.50H521.32M518.42 93.60V99.40" stroke="#000" stroke-width="1.5"/>
<path d="M523.18 113.90H528.98M526.08 111.00V116.80" stroke="#000" stroke-width="1.5"/>
<path d="M530.83 123.80H536.63M533.73 120.90V126.70" stroke="#000" stroke-width="1.5"/>
<path d="M538.49 144.90H544.29M541.39 142.00V147.80" stroke="#000" stroke-width="1.5"/>
<path d="M546.14 153.00H551.94M549.04 150.10V155.90" stroke="#000" stroke-width="1.5"/>
<path d="M553.80 161.10H559.60M556.70 158.20V164.00" stroke="#000" stroke-width="1.5"/>
<path d="M561.46 145.30H567.26M564.36 142.40V148.20" stroke="#000" stroke-width="1.5"/>
<path d="M569.11 181.00H574.91M572.01 178.10V183.90" stroke="#000" stroke-width="1.5"/>
<path d="M576.77 184.80H582.57M579.67 181.90V187.70" stroke="#000" stroke-width="1.5"/>
<path d="M584.42 194.30H590.22M587.32 191.40V197.20" stroke="#000" stroke-width="1.5"/>
<path d="M592.08 192.10H597.88M594.98 189.20V195.00" stroke="#000" stroke-width="1.5"/>
<path d="M599.73 211.30H605.53M602.63 208.40V214.20" stroke="#000" stroke-width="1.5"/>
<path d="M607.39 221.00H613.19M610.29 218.10V223.90" stroke="#000" stroke-width="1.5"/>
<path d="M608.92 234.20H614.72M611.82 231.30V237.10" stroke="#000" stroke-width="1.5"/>
<rect x="365.85" y="57.15" width="4.6" height="4.5" fill="#00ff00"/>
<rect x="396.10" y="143.00" width="4.80" height="4.30" fill="#00ff00"/>
<rect x="398.90" y="142.10" width="4.60" height="4.50" fill="#00ff00"/>
<rect x="401.00" y="158.90" width="4.80" height="7.10" fill="#00ff00"/>
<rect x="396.20" y="165.00" width="9.60" height="7.00" fill="#00ff00"/>
<rect x="396.20" y="171.50" width="10.40" height="12.50" fill="#00ff00"/>
<rect x="406.00" y="175.50" width="3.30" height="7.50" fill="#00ff00"/>
<rect x="409.00" y="178.30" width="2.20" height="4.20" fill="#00ff00"/>
<rect x="397.10" y="183.50" width="6.10" height="5.40" fill="#00ff00"/>
<rect x="390.20" y="191.00" width="6.50" height="7.40" fill="#00ff00"/>
<rect x="352.00" y="220.80" width="4.50" height="4.40" fill="#00ff00"/>
<rect x="359.40" y="228.20" width="4.80" height="4.70" fill="#00ff00"/>
<rect x="363.10" y="226.30" width="5.60" height="10.50" fill="#00ff00"/>
<rect x="368.50" y="224.80" width="4.70" height="4.80" fill="#00ff00"/>
<rect x="371.00" y="222.20" width="4.60" height="4.80" fill="#00ff00"/>
<rect x="368.20" y="233.70" width="7.90" height="4.80" fill="#00ff00"/>
<rect x="375.60" y="230.00" width="4.30" height="4.80" fill="#00ff00"/>
<rect x="363.10" y="236.50" width="4.70" height="12.20" fill="#00ff00"/>
<text x="388" y="63.3" font-family='"Liberation Serif", serif' font-size="11" text-anchor="start" fill="#000" stroke="#000" stroke-width="0.12" >GB observations</text>
</svg></body></html>
